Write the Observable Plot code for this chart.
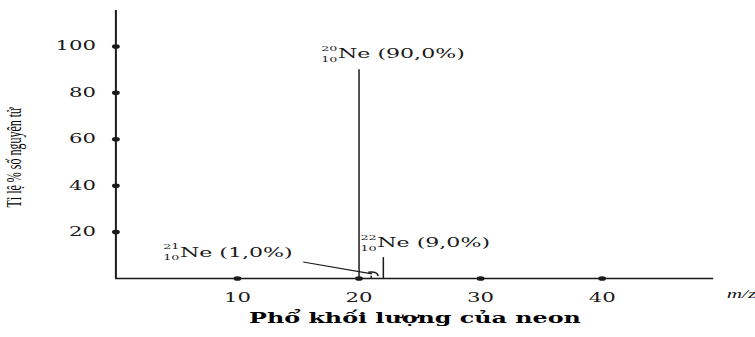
<!DOCTYPE html>
<html><head><meta charset="utf-8">
<script src="https://cdn.jsdelivr.net/npm/d3@7"></script>
<script src="https://cdn.jsdelivr.net/npm/@observablehq/plot@0.6"></script>
<style>
html,body{margin:0;padding:0;background:#fff;}
#chart svg line, #chart svg path{vector-effect:non-scaling-stroke;}
</style></head><body><div id="chart"></div>
<script>
// ---- data ----
const isotopes = ["20Ne", "21Ne", "22Ne"];
const massNumbers = [20, 21, 22];
const atomicNumbers = [10, 10, 10];
const abundances = [90.0, 1.0, 9.0];
const abundanceLabels = ["Ne (90,0%)", "Ne (1,0%)", "Ne (9,0%)"];
const xTicks = [10, 20, 30, 40];
const yTicks = [20, 40, 60, 80, 100];
const xDomain = [0, 49.2];
const yDomain = [0, 115.5];
const xLabel = "m/z";
const yLabel = "Tỉ lệ % số nguyên tử";
const title = "Phổ khối lượng của neon";

const peaks = isotopes.map((name, i) => ({
  name, mass: massNumbers[i], z: atomicNumbers[i], pct: abundances[i], label: abundanceLabels[i]
}));

const W = 444, H = 337, OUTW = 755;
const ink = "#1a1a1a";
const serif = "DejaVu Serif";

function isoLabel(name, dx, dy) {
  const d = peaks.filter(p => p.name === name);
  return [
    Plot.text(d, {x: "mass", y: "pct", text: "label", dx, dy, textAnchor: "start",
      fontSize: 13, fontFamily: serif, fill: ink}),
    Plot.text(d, {x: "mass", y: "pct", text: p => String(p.mass), dx: dx - 0.3, dy: dy - 5.5,
      textAnchor: "end", fontSize: 7.5, fontFamily: serif, fill: ink}),
    Plot.text(d, {x: "mass", y: "pct", text: p => String(p.z), dx: dx - 0.3, dy: dy + 5.5,
      textAnchor: "end", fontSize: 7.5, fontFamily: serif, fill: ink})
  ];
}

const plot = Plot.plot({
  width: W, height: H,
  marginLeft: 67.65, marginRight: 24.6, marginTop: 10, marginBottom: 59,
  style: {fontFamily: serif, fontSize: "12px", background: "white", color: ink},
  x: {domain: xDomain, axis: null},
  y: {domain: yDomain, axis: null},
  marks: [
    Plot.ruleY([0], {stroke: ink, strokeWidth: 1.5}),
    Plot.ruleX([0], {stroke: ink, strokeWidth: 2}),
    Plot.dot(xTicks, {x: d => d, y: () => 0, r: 2.3, fill: ink, stroke: "none"}),
    Plot.dot(yTicks, {x: () => 0, y: d => d, r: 2.3, fill: ink, stroke: "none"}),
    Plot.text(xTicks, {x: d => d, y: () => 0, text: d => String(d), dy: 19,
      fontSize: 12.5, fontFamily: serif, fill: ink}),
    Plot.text(yTicks, {x: () => 0, y: d => d, text: d => String(d), dx: -11.7, textAnchor: "end",
      fontSize: 12.5, fontFamily: serif, fill: ink}),
    Plot.ruleX(peaks, {x: "mass", y1: 0, y2: "pct", stroke: ink, strokeWidth: 1.5}),
    ...isoLabel("20Ne", -12.4, -16),
    ...isoLabel("22Ne", -3.6, -15),
    ...isoLabel("21Ne", -112.5, -23.7),
    Plot.text([xLabel], {frameAnchor: "bottom-right", text: d => d, dx: 7.5, dy: 19,
      textAnchor: "start", fontSize: 12.5, fontStyle: "italic", fontFamily: "Liberation Serif", fill: ink}),
    Plot.text([yLabel], {frameAnchor: "left", text: d => d, dx: -59.5, dy: 13, rotate: -90,
      textAnchor: "middle", fontSize: 12, fontFamily: "Liberation Serif", fill: "#000"}),
    Plot.text([title], {frameAnchor: "bottom", text: d => d, dy: 44,
      fontSize: 14, fontWeight: "bold", fontFamily: serif, fill: "#000"})
  ]
});

// callout for the 21Ne peak, placed with the plot's own scales
const sx = plot.scale("x"), sy = plot.scale("y");
const p21 = peaks.find(p => p.name === "21Ne");
const px = sx.apply(p21.mass), py = sy.apply(p21.pct);
const g = d3.select(plot).append("g").attr("fill", "none").attr("stroke", ink).attr("stroke-width", 1.2);
g.append("path").attr("d", `M${px - 39.5},${py - 13.7}L${px + 1},${py - 1.8}`);
g.append("path").attr("d", `M${px - 1.2},${py - 3.4}Q${px + 4},${py - 4.5} ${px + 4.6},${py + 0.3}`).attr("stroke-width", 1.6);

plot.setAttribute("viewBox", `0 0 ${W} ${H}`);
plot.setAttribute("preserveAspectRatio", "none");
plot.setAttribute("width", OUTW);
plot.setAttribute("height", H);
plot.style.width = OUTW + "px";
plot.style.height = H + "px";
plot.style.maxWidth = "none";
document.getElementById("chart").appendChild(plot);
</script></body></html>
